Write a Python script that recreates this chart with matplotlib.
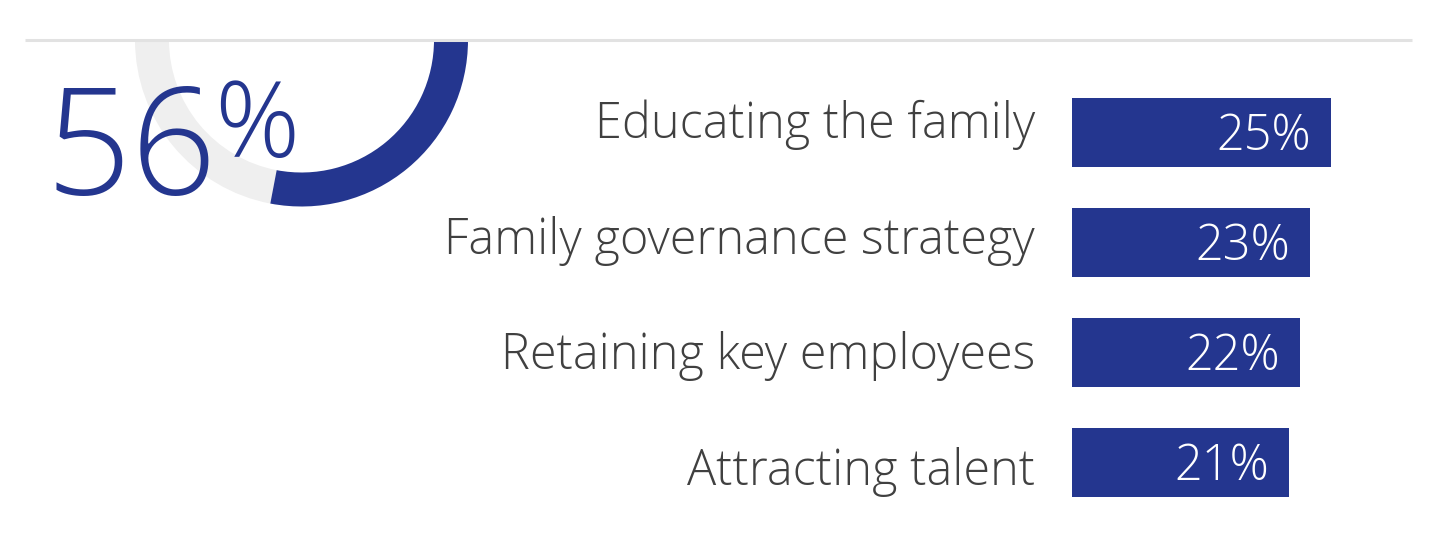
import numpy as np
import matplotlib.pyplot as plt
from matplotlib.patches import Wedge

# Datos
categorias = ['Educating the family', 'Family governance strategy',
              'Retaining key employees', 'Attracting talent']
valores = [25, 23, 22, 21]
valor_total = 56   # indicador principal (semicirculo)

azul = '#24368f'
gris_anillo = '#efefef'
gris_linea = '#e2e2e2'
gris_texto = '#404040'

plt.rcParams['font.family'] = ['Open Sans', 'DejaVu Sans']

W, H = 1448, 556
fig = plt.figure(figsize=(W / 100, H / 100), dpi=100)

# Fondo en pixeles (para el indicador y la linea superior)
bg = fig.add_axes([0, 0, 1, 1])
bg.set_xlim(0, W)
bg.set_ylim(0, H)
bg.axis('off')

cx, cy = 301.5, H - 40
r_ext, grosor = 166.5, 34
angulo = 180 * valor_total / 100
bg.add_patch(Wedge((cx, cy), r_ext, 180, 360 - angulo, width=grosor,
                   color=gris_anillo, lw=0))
bg.add_patch(Wedge((cx, cy), r_ext, 360 - angulo, 360, width=grosor,
                   color=azul, lw=0))
bg.plot([25, 1412], [H - 40, H - 40], color=gris_linea, lw=2.2,
        solid_capstyle='butt')

bg.text(46, H - 195, f'{valor_total}', fontsize=108, color=azul,
        fontweight='light', ha='left', va='baseline')
bg.text(214, H - 157, '%', fontsize=76, color=azul,
        fontweight='light', ha='left', va='baseline')

# Barras
ax = fig.add_axes([1072 / W, (H - 517.5) / H, 362 / W, 440 / H])
ax.set_xlim(0, 35)
ax.set_ylim(3.5, -0.5)
ax.axis('off')
y = np.arange(len(valores))
ax.barh(y, valores, height=69 / 110, color=azul)

for i, v in enumerate(valores):
    ax.annotate(f'{v}%', xy=(v, i), xytext=(-20 * 0.72, -17 * 0.72),
                textcoords='offset points', ha='right', va='baseline',
                fontsize=35, color='white', fontweight='light')
    ax.annotate(categorias[i], xy=(0, i), xytext=(-37 * 0.72, -(5.5 + 5.7 * i) * 0.72),
                textcoords='offset points', ha='right', va='baseline',
                fontsize=35, color=gris_texto, fontweight='light',
                annotation_clip=False)

fig.savefig('out.png', dpi=100)
